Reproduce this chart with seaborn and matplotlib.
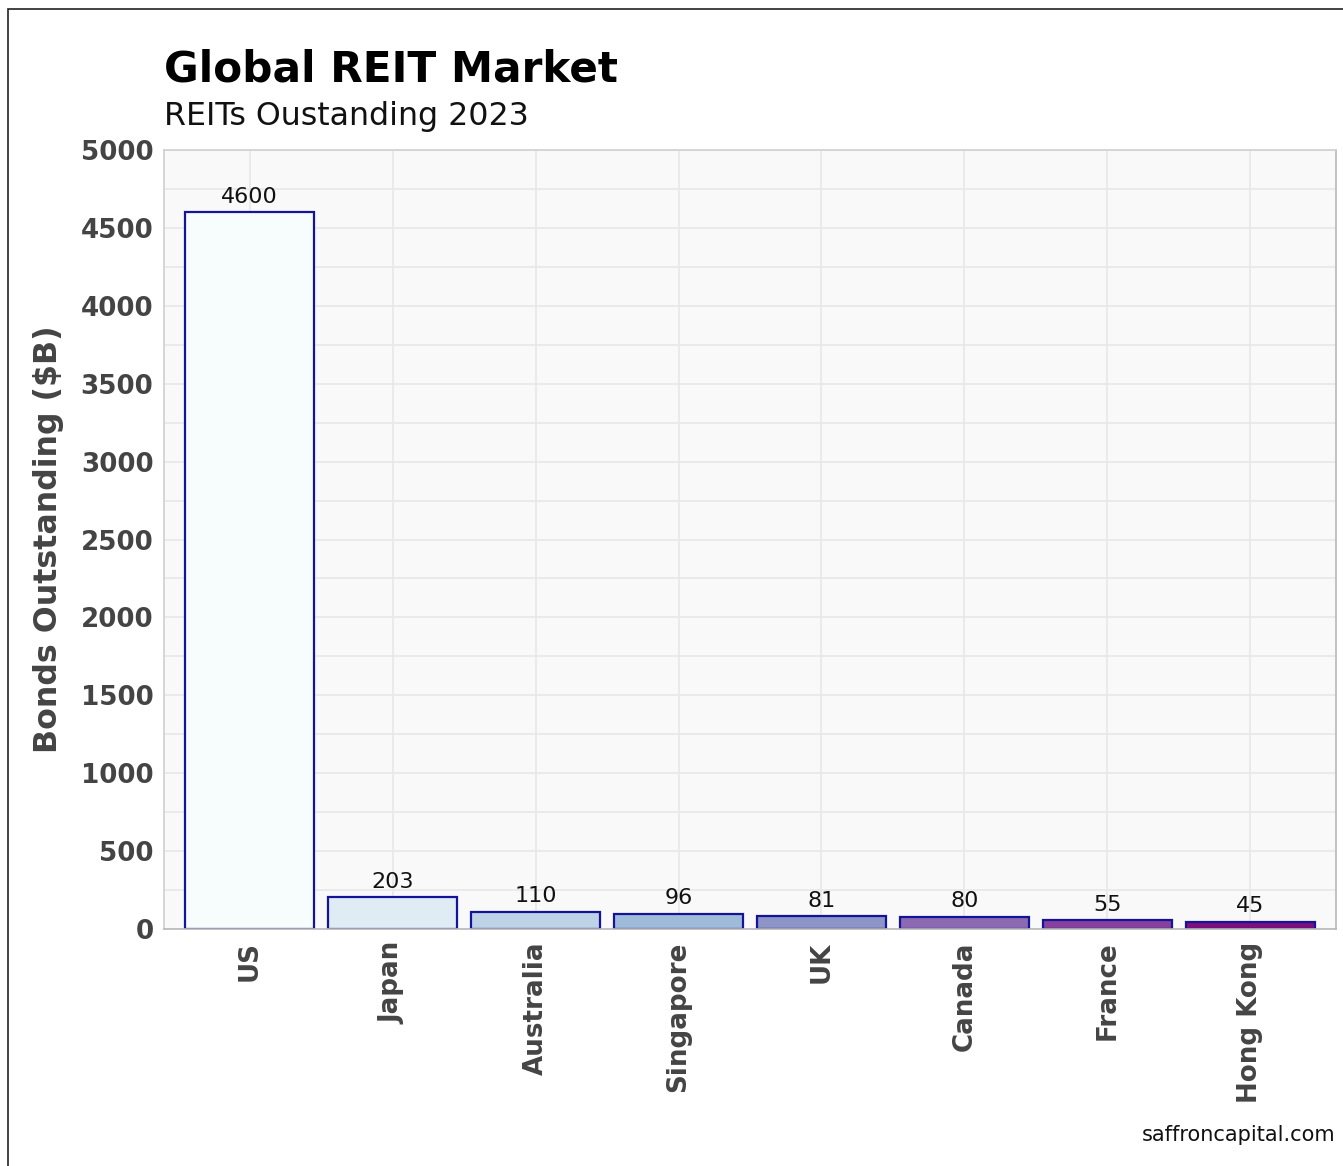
import matplotlib
matplotlib.use("Agg")
import matplotlib.pyplot as plt
import seaborn as sns
import numpy as np
import pandas as pd
from matplotlib.ticker import MultipleLocator
from matplotlib.patches import Rectangle

countries = ["US", "Japan", "Australia", "Singapore", "UK", "Canada", "France", "Hong Kong"]
values = [4600, 203, 110, 96, 81, 80, 55, 45]
title = "Global REIT Market"
subtitle = "REITs Oustanding 2023"
ylabel = "Bonds Outstanding ($B)"
source = "saffroncapital.com"

sns.set_theme(style="whitegrid")
plt.rcParams['font.family'] = ['DejaVu Sans']

df = pd.DataFrame({"country": countries, "value": values})
cmap = plt.get_cmap("BuPu")
palette = [cmap(i / 8) for i in range(len(countries))]

W, H, DPI = 1343, 1166, 200
fig = plt.figure(figsize=(W / DPI, H / DPI), dpi=DPI)
ax = fig.add_axes([164 / W, 1 - 929 / H, (1336 - 164) / W, (929 - 150) / H])
ax.set_facecolor("#f9f9f9")

sns.barplot(data=df, x="country", y="value", hue="country", palette=palette,
            legend=False, width=0.9, edgecolor="#14149a", linewidth=0.8, ax=ax,
            saturation=1)

for c in ax.containers:
    ax.bar_label(c, labels=[f"{int(v)}" for v in c.datavalues], padding=2,
                 fontsize=8, color="#111111")

ax.set_xlim(-0.6, len(countries) - 0.4)
ax.set_ylim(0, 5000)
ax.yaxis.set_major_locator(MultipleLocator(500))
ax.yaxis.set_minor_locator(MultipleLocator(250))
ax.grid(which="both", color="#e8e8e8", linewidth=0.6)
ax.set_axisbelow(True)

ax.set_xlabel("")
ax.set_ylabel(ylabel, fontsize=11.4, fontweight="bold", color="#444444", labelpad=6)
ax.tick_params(axis="x", labelrotation=90, labelsize=9.4, colors="#444444", length=0, pad=4.5)
ax.tick_params(axis="y", labelsize=9.4, colors="#444444", length=0, pad=3.8)
ax.tick_params(which="minor", length=0)
for lab in ax.get_xticklabels() + ax.get_yticklabels():
    lab.set_fontweight("bold")

for side in ["top", "left"]:
    ax.spines[side].set_color("#d0d0d0")
    ax.spines[side].set_linewidth(0.6)
for side in ["bottom", "right"]:
    ax.spines[side].set_color("#b8b8b8")
    ax.spines[side].set_linewidth(0.6)

fig.text(164 / W, 1 - 82 / H, title, fontsize=15.2, fontweight="bold", color="black",
         ha="left", va="baseline")
fig.text(164 / W, 1 - 125 / H, subtitle, fontsize=11.4, color="#111111",
         ha="left", va="baseline")
fig.text(1335 / W, 1 - 1141 / H, source, fontsize=7.5, color="#111111",
         ha="right", va="baseline")

fig.patches.append(Rectangle((8 / W, -0.1), 1.2, 0.1 + 1 - 9 / H, transform=fig.transFigure,
                             fill=False, edgecolor="#222222", linewidth=0.6))

fig.savefig("out.png", dpi=DPI)
